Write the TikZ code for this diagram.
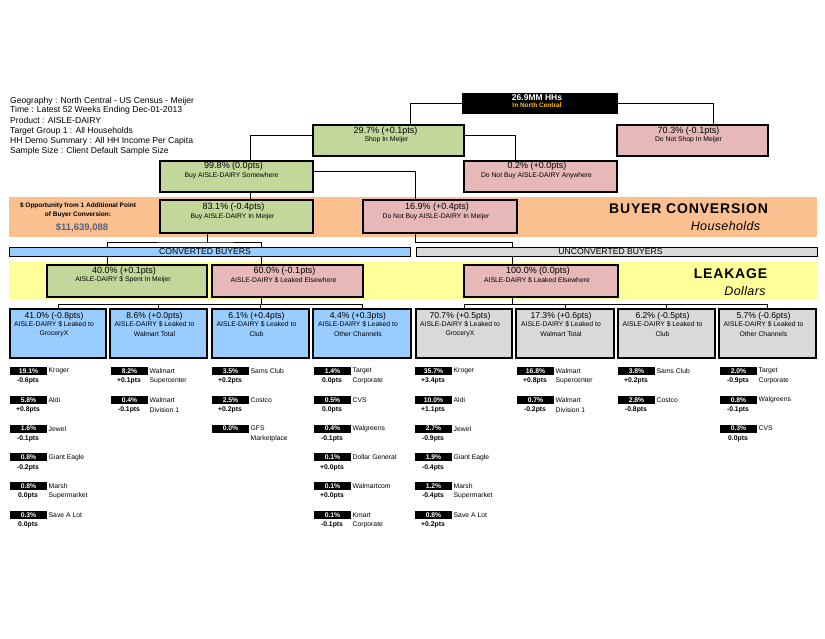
\documentclass[tikz,border=0pt]{standalone}
\usepackage{fontspec}
\setmainfont{Liberation Sans}
\usetikzlibrary{calc}
\definecolor{bgreen}{HTML}{C4D79B}
\definecolor{bpink}{HTML}{E6B8B7}
\definecolor{bblue}{HTML}{99CCFF}
\definecolor{bgray}{HTML}{D9D9D9}
\definecolor{bandor}{HTML}{FAC090}
\definecolor{bandye}{HTML}{FFFF99}
\definecolor{oppblue}{HTML}{4F6182}
\definecolor{hhorange}{HTML}{FFC000}
\pgfdeclarelayer{bandlayer}
\pgfdeclarelayer{linelayer}
\pgfsetlayers{bandlayer,linelayer,main}
\tikzset{
  box/.style={draw=black, line width=1.1pt, inner sep=0pt, outer sep=0pt},
  gbox/.style={box, fill=bgreen},
  pbox/.style={box, fill=bpink},
  blbox/.style={box, fill=bblue},
  grbox/.style={box, fill=bgray},
  hbox/.style={box, fill=black},
  conn/.style={draw=black, line width=1pt},
  ttl/.style={inner sep=0pt, font=\fontsize{9}{10}\selectfont},
  sub/.style={inner sep=0pt, font=\fontsize{6.8}{8}\selectfont},
  lttl/.style={inner sep=0pt, font=\fontsize{8.6}{10}\selectfont},
  hdr/.style={inner sep=0pt, anchor=west, font=\fontsize{8.6}{10}\selectfont},
  blab/.style={fill=black, text=white, inner sep=0pt, minimum width=37pt, minimum height=8pt, font=\bfseries\fontsize{6.8}{8}\selectfont},
  lname/.style={inner sep=0pt, anchor=west, font=\fontsize{6.8}{8}\selectfont},
  lpts/.style={inner sep=0pt, font=\bfseries\fontsize{6.8}{8}\selectfont},
  bigttl/.style={inner sep=0pt, font=\bfseries\fontsize{14}{16}\selectfont\addfontfeature{LetterSpace=6}},
  bigsub/.style={inner sep=0pt, font=\itshape\fontsize{12.5}{14}\selectfont\addfontfeature{LetterSpace=3}},
}
\newcommand\itm[6]{%
  \pgfmathsetmacro\ry{371+28.8*#2}%
  \node[blab] (b#1r#2) at (#1+18.5,\ry) {#3};
  \node[lname] (n#1r#2) at (#1+38.5,\ry) {#4};
  \if\relax\detokenize{#5}\relax\else\node[lname] at (#1+38.5,\ry+10) {#5};\fi
  \if\relax\detokenize{#6}\relax\else\node[lpts] at (#1+18,\ry+10) {#6};\fi
}
\newcommand\lbt[4]{%
  \node[lttl] at ([xshift=-4pt,yshift=-7pt]#1.north) {#2};
  \node[sub] at ([xshift=-4pt,yshift=-15pt]#1.north) {#3};
  \node[sub] at ([xshift=-4pt,yshift=-25pt]#1.north) {#4};
}
\begin{document}
\begin{tikzpicture}[x=1pt,y=-1pt]
\useasboundingbox (0,0) rectangle (825,638);

% background and bands
\begin{pgfonlayer}{bandlayer}
\fill[white] (0,0) rectangle (825,638);
\fill[bandor] (9,197) rectangle (817,237);
\fill[bandye] (9,262) rectangle (817,299);
\end{pgfonlayer}

% header
\node[hdr] (h1) at (10,101) {Geography : North Central - US Census - Meijer};
\node[hdr] (h2) at (10,110.5) {Time : Latest 52 Weeks Ending Dec-01-2013};
\node[hdr] (h3) at (10,120) {Product : AISLE-DAIRY};
\node[hdr] (h4) at (10,131.5) {Target Group 1 : All Households};
\node[hdr] (h5) at (10,141.5) {HH Demo Summary : All HH Income Per Capita};
\node[hdr] (h6) at (10,151.5) {Sample Size : Client Default Sample Size};

% boxes
\node[hbox, minimum width=154pt, minimum height=20pt] (hh) at (540,103.5) {};
\node[inner sep=0pt, text=white, font=\bfseries\fontsize{8.5}{10}\selectfont] at ([xshift=-3pt,yshift=-4.5pt]hh.north) {26.9MM HHs};
\node[inner sep=0pt, text=hhorange, font=\bfseries\fontsize{6.5}{8}\selectfont] at ([xshift=-3pt,yshift=-11.5pt]hh.north) {In North Central};

\node[gbox, minimum width=151pt, minimum height=31pt] (shop) at (388.5,140.5) {};
\node[ttl] at ([xshift=-3pt,yshift=-6pt]shop.north) {29.7\% (+0.1pts)};
\node[sub] at ([xshift=-2pt,yshift=-15pt]shop.north) {Shop In Meijer};

\node[pbox, minimum width=151pt, minimum height=31pt] (noshop) at (692.5,140.5) {};
\node[ttl] at ([xshift=-4pt,yshift=-6pt]noshop.north) {70.3\% (-0.1pts)};
\node[sub] at ([xshift=-4pt,yshift=-15pt]noshop.north) {Do Not Shop In Meijer};

\node[gbox, minimum width=153pt, minimum height=31pt] (some) at (236.5,176.5) {};
\node[ttl] at ([xshift=-3pt,yshift=-5.5pt]some.north) {99.8\% (0.0pts)};
\node[sub] at ([xshift=-5pt,yshift=-14.5pt]some.north) {Buy AISLE-DAIRY Somewhere};

\node[pbox, minimum width=153pt, minimum height=31pt] (nobuy) at (540.5,176.5) {};
\node[ttl] at ([xshift=-3.5pt,yshift=-5.5pt]nobuy.north) {0.2\% (+0.0pts)};
\node[sub] at ([xshift=-4pt,yshift=-14.5pt]nobuy.north) {Do Not Buy AISLE-DAIRY Anywhere};

\node[gbox, minimum width=153pt, minimum height=33pt] (inm) at (236.5,216.5) {};
\node[ttl] at ([xshift=-3pt,yshift=-7pt]inm.north) {83.1\% (-0.4pts)};
\node[sub] at ([xshift=-4pt,yshift=-17pt]inm.north) {Buy AISLE-DAIRY In Meijer};

\node[pbox, minimum width=154pt, minimum height=33pt] (notinm) at (440,216.5) {};
\node[ttl] at ([xshift=-3pt,yshift=-7pt]notinm.north) {16.9\% (+0.4pts)};
\node[sub] at ([xshift=-4pt,yshift=-17pt]notinm.north) {Do Not Buy AISLE-DAIRY In Meijer};

% band texts
\node[inner sep=0pt, font=\bfseries\fontsize{6.5}{8}\selectfont] (opp1) at (78,205.7) {\$ Opportunity from 1 Additional Point};
\node[inner sep=0pt, font=\bfseries\fontsize{6.5}{8}\selectfont] (opp2) at (78,215) {of Buyer Conversion:};
\node[inner sep=0pt, text=oppblue, font=\bfseries\fontsize{9.5}{11}\selectfont] (opp3) at (82,228) {\$11,639,088};
\node[bigttl] (bc) at (688.5,209) {BUYER CONVERSION};
\node[bigsub] (bch) at (725.5,226) {Households};
\node[bigttl] (lk) at (730.5,274) {LEAKAGE};
\node[bigsub] (lkd) at (745,291.5) {Dollars};

% bars
\node[blbox, line width=1pt, minimum width=401pt, minimum height=9pt] (convbar) at (210,251.5) {};
\node[inner sep=0pt, font=\fontsize{8.6}{10}\selectfont] at (205,252) {CONVERTED BUYERS};
\node[grbox, line width=1pt, minimum width=401pt, minimum height=9pt] (unconvbar) at (616.5,251.5) {};
\node[inner sep=0pt, font=\fontsize{8.6}{10}\selectfont] at (610.5,252) {UNCONVERTED BUYERS};

% leakage row
\node[gbox, minimum width=160pt, minimum height=32pt] (spent) at (127,281) {};
\node[ttl] at ([xshift=-3pt,yshift=-6pt]spent.north) {40.0\% (+0.1pts)};
\node[sub] at ([xshift=-4pt,yshift=-15pt]spent.north) {AISLE-DAIRY \$ Spent In Meijer};

\node[pbox, minimum width=151pt, minimum height=32pt] (leakc) at (287.5,281) {};
\node[ttl] at ([xshift=-3pt,yshift=-6pt]leakc.north) {60.0\% (-0.1pts)};
\node[sub] at ([xshift=-4pt,yshift=-15pt]leakc.north) {AISLE-DAIRY \$ Leaked Elsewhere};

\node[pbox, minimum width=154pt, minimum height=32pt] (leaku) at (541,281) {};
\node[ttl] at ([xshift=-3pt,yshift=-6pt]leaku.north) {100.0\% (0.0pts)};
\node[sub] at ([xshift=-4pt,yshift=-15pt]leaku.north) {AISLE-DAIRY \$ Leaked Elsewhere};

% leak channel boxes
\node[blbox, minimum width=96pt, minimum height=49pt] (cb1) at (58,333.5) {};
\node[blbox, minimum width=97pt, minimum height=49pt] (cb2) at (158.5,333.5) {};
\node[blbox, minimum width=97pt, minimum height=49pt] (cb3) at (260.5,333.5) {};
\node[blbox, minimum width=98pt, minimum height=49pt] (cb4) at (362,333.5) {};
\node[grbox, minimum width=96pt, minimum height=49pt] (ub1) at (464,333.5) {};
\node[grbox, minimum width=98pt, minimum height=49pt] (ub2) at (565,333.5) {};
\node[grbox, minimum width=97pt, minimum height=49pt] (ub3) at (666.5,333.5) {};
\node[grbox, minimum width=97pt, minimum height=49pt] (ub4) at (767.5,333.5) {};
\lbt{cb1}{41.0\% (-0.8pts)}{AISLE-DAIRY \$ Leaked to}{GroceryX}
\lbt{cb2}{8.6\% (+0.0pts)}{AISLE-DAIRY \$ Leaked to}{Walmart Total}
\lbt{cb3}{6.1\% (+0.4pts)}{AISLE-DAIRY \$ Leaked to}{Club}
\lbt{cb4}{4.4\% (+0.3pts)}{AISLE-DAIRY \$ Leaked to}{Other Channels}
\lbt{ub1}{70.7\% (+0.5pts)}{AISLE-DAIRY \$ Leaked to}{GroceryX}
\lbt{ub2}{17.3\% (+0.6pts)}{AISLE-DAIRY \$ Leaked to}{Walmart Total}
\lbt{ub3}{6.2\% (-0.5pts)}{AISLE-DAIRY \$ Leaked to}{Club}
\lbt{ub4}{5.7\% (-0.6pts)}{AISLE-DAIRY \$ Leaked to}{Other Channels}

% connectors
\begin{pgfonlayer}{linelayer}
\draw[conn] (hh.west) -| ([xshift=22pt]shop.north);
\draw[conn] (hh.east) -| ([xshift=20.5pt]noshop.north);
\draw[conn] ([yshift=5.5pt]shop.west) -| ([xshift=13.5pt]some.north);
\draw[conn] ([yshift=5pt]shop.east) -| ([xshift=-25.5pt]nobuy.north);
\draw[conn] ([xshift=13.5pt]some.south) -- ([xshift=13.5pt]inm.north);
\draw[conn] ([yshift=5.5pt]some.east) -| ([xshift=-25pt]notinm.north);
\coordinate (j1) at ([xshift=-29.5pt,yshift=-9pt]inm.south);
\draw[conn] ([xshift=-29.5pt]inm.south) -- (j1);
\draw[conn] ([xshift=-20pt]spent.north) |- (j1) -| ([xshift=-26.5pt]leakc.north);
\draw[conn] ([xshift=-25pt]notinm.south) -- ++(0,9) -| ([xshift=-29pt]leaku.north);
\draw[conn] ([xshift=-26.5pt]leakc.south) -- ++(0,7);
\draw[conn] (cb1.north) -- ++(0,-5) -| (cb4.north);
\draw[conn] (cb2.north) -- ++(0,-5);
\draw[conn] (cb3.north) -- ++(0,-5);
\draw[conn] ([xshift=-29pt]leaku.south) -- ++(0,7);
\draw[conn] (ub1.north) -- ++(0,-5) -| (ub4.north);
\draw[conn] (ub2.north) -- ++(0,-5);
\draw[conn] (ub3.north) -- ++(0,-5);
\end{pgfonlayer}

% lists - converted
\itm{10}{0}{19.1\%}{Kroger}{}{-0.6pts}
\itm{10}{1}{5.8\%}{Aldi}{}{+0.8pts}
\itm{10}{2}{1.6\%}{Jewel}{}{-0.1pts}
\itm{10}{3}{0.8\%}{Giant Eagle}{}{-0.2pts}
\itm{10}{4}{0.8\%}{Marsh}{Supermarket}{0.0pts}
\itm{10}{5}{0.3\%}{Save A Lot}{}{0.0pts}
\itm{111}{0}{8.2\%}{Walmart}{Supercenter}{+0.1pts}
\itm{111}{1}{0.4\%}{Walmart}{Division 1}{-0.1pts}
\itm{212}{0}{3.5\%}{Sams Club}{}{+0.2pts}
\itm{212}{1}{2.5\%}{Costco}{}{+0.2pts}
\itm{212}{2}{0.0\%}{GFS}{Marketplace}{}
\itm{314}{0}{1.4\%}{Target}{Corporate}{0.0pts}
\itm{314}{1}{0.5\%}{CVS}{}{0.0pts}
\itm{314}{2}{0.4\%}{Walgreens}{}{-0.1pts}
\itm{314}{3}{0.1\%}{Dollar General}{}{+0.0pts}
\itm{314}{4}{0.1\%}{Walmartcom}{}{+0.0pts}
\itm{314}{5}{0.1\%}{Kmart}{Corporate}{-0.1pts}
% lists - unconverted
\itm{415}{0}{35.7\%}{Kroger}{}{+3.4pts}
\itm{415}{1}{10.0\%}{Aldi}{}{+1.1pts}
\itm{415}{2}{2.7\%}{Jewel}{}{-0.9pts}
\itm{415}{3}{1.9\%}{Giant Eagle}{}{-0.4pts}
\itm{415}{4}{1.2\%}{Marsh}{Supermarket}{-0.4pts}
\itm{415}{5}{0.8\%}{Save A Lot}{}{+0.2pts}
\itm{517}{0}{16.8\%}{Walmart}{Supercenter}{+0.8pts}
\itm{517}{1}{0.7\%}{Walmart}{Division 1}{-0.2pts}
\itm{618}{0}{3.8\%}{Sams Club}{}{+0.2pts}
\itm{618}{1}{2.8\%}{Costco}{}{-0.8pts}
\itm{720}{0}{2.0\%}{Target}{Corporate}{-0.9pts}
\itm{720}{1}{0.8\%}{Walgreens}{}{-0.1pts}
\itm{720}{2}{0.3\%}{CVS}{}{0.0pts}
\end{tikzpicture}
\end{document}
